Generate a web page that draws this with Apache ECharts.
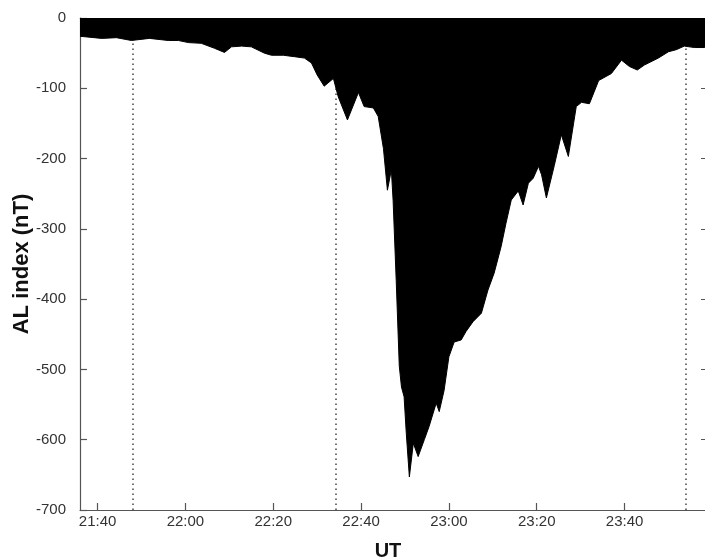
<!DOCTYPE html>
<html>
<head>
<meta charset="utf-8">
<script src="https://cdn.jsdelivr.net/npm/echarts@6/dist/echarts.min.js"></script>
<style>html,body{margin:0;padding:0;background:#fff;}#c{width:705px;height:560px;}</style>
</head>
<body>
<div id="c"></div>
<script>
// time in minutes since 00:00 UT
const times = [1296.0,1300.9,1304.3,1307.7,1311.8,1316.1,1318.4,1320.7,1323.6,1326.6,1328.9,1330.5,1332.8,1335.0,1338.0,1339.6,1342.3,1344.8,1347.1,1348.7,1350.0,1351.6,1353.7,1354.8,1356.9,1359.4,1360.7,1362.8,1363.9,1365.1,1366.0,1366.9,1367.3,1368.0,1368.7,1369.2,1369.8,1370.3,1371.0,1371.9,1373.0,1374.4,1375.5,1377.1,1377.8,1378.9,1380.0,1381.2,1382.8,1383.9,1385.5,1387.4,1388.9,1390.3,1391.9,1393.0,1394.2,1395.8,1396.9,1398.1,1399.2,1400.4,1401.1,1402.2,1404.0,1405.6,1407.2,1409.0,1410.2,1412.0,1414.1,1417.0,1419.3,1421.1,1422.9,1424.5,1427.7,1430.0,1431.8,1433.6,1435.9,1438.2,1439.0];
const alValues = [-26,-29,-28,-32,-29,-32,-32,-35,-36,-43,-49,-41,-40,-41,-50,-53,-53,-55,-57,-64,-81,-97,-86,-112,-145,-106,-126,-128,-140,-186,-245,-216,-260,-373,-495,-525,-539,-591,-653,-605,-624,-600,-581,-548,-560,-530,-482,-461,-458,-446,-432,-420,-387,-363,-325,-292,-259,-246,-266,-235,-228,-211,-223,-256,-210,-166,-197,-126,-120,-122,-89,-79,-60,-69,-74,-67,-57,-48,-45,-40,-42,-42,-42];
const tickTimes = [1300,1320,1340,1360,1380,1400,1420];
const eventTimes = [1307.9,1354.3,1434.0];

function fmt(m){const h=Math.floor(m/60),mm=Math.round(m%60);return h+':'+(mm<10?'0':'')+mm;}

const font = 'Liberation Sans, Arial, Helvetica, sans-serif';
const chart = echarts.init(document.getElementById('c'), null, {renderer:'canvas'});
chart.setOption({
  animation:false,
  backgroundColor:'#fff',
  grid:{left:80, top:18, width:628, height:492, containLabel:false, outerBoundsMode:'none'},
  xAxis:[{
    type:'value', min:1296, max:1439,
    name:'UT', nameLocation:'middle', nameGap:31, nameMoveOverlap:false,
    nameTextStyle:{fontFamily:font, fontSize:20, fontWeight:'bold', color:'#111', padding:[0,12,0,0]},
    axisLine:{show:true, onZero:false, lineStyle:{color:'#555', width:1.2}},
    axisTick:{show:true, inside:true, length:7, customValues:tickTimes, lineStyle:{color:'#555', width:1.2}},
    axisLabel:{show:true, customValues:tickTimes, formatter:v=>fmt(v), fontFamily:font, fontSize:15, color:'#333', margin:4},
    splitLine:{show:false}
  },{
    type:'value', position:'top', min:1296, max:1439,
    axisLine:{show:true, onZero:false, lineStyle:{color:'#aaa', width:1}},
    axisTick:{show:false}, axisLabel:{show:false}, splitLine:{show:false}
  }],
  yAxis:[{
    type:'value', min:-700, max:0, interval:100,
    name:'AL index (nT)', nameLocation:'middle', nameGap:47, nameRotate:90, nameMoveOverlap:false,
    nameTextStyle:{fontFamily:font, fontSize:22, fontWeight:'bold', color:'#111'},
    axisLine:{show:true, onZero:false, lineStyle:{color:'#555', width:1.2}},
    axisTick:{show:true, inside:true, length:7, lineStyle:{color:'#555', width:1.2}},
    axisLabel:{fontFamily:font, fontSize:15, color:'#333', margin:14},
    splitLine:{show:false}
  },{
    type:'value', min:-700, max:0, interval:100, position:'right',
    axisLine:{show:true, onZero:false, lineStyle:{color:'#555', width:1}},
    axisTick:{show:true, inside:true, length:7, lineStyle:{color:'#555'}},
    axisLabel:{show:false}, splitLine:{show:false}
  }],
  series:[{
    type:'line',
    data: times.map((t,i)=>[t, alValues[i]]),
    showSymbol:false, symbol:'none',
    lineStyle:{color:'#000', width:1},
    areaStyle:{color:'#000', opacity:1, origin:'end'},
    z:3,
    markLine:{
      silent:true, symbol:['none','none'], label:{show:false},
      lineStyle:{color:'#444', type:[1.5,3.5], width:1.5},
      data: eventTimes.map(t=>({xAxis:t})),
      z:2
    }
  }]
});
</script>
</body>
</html>
